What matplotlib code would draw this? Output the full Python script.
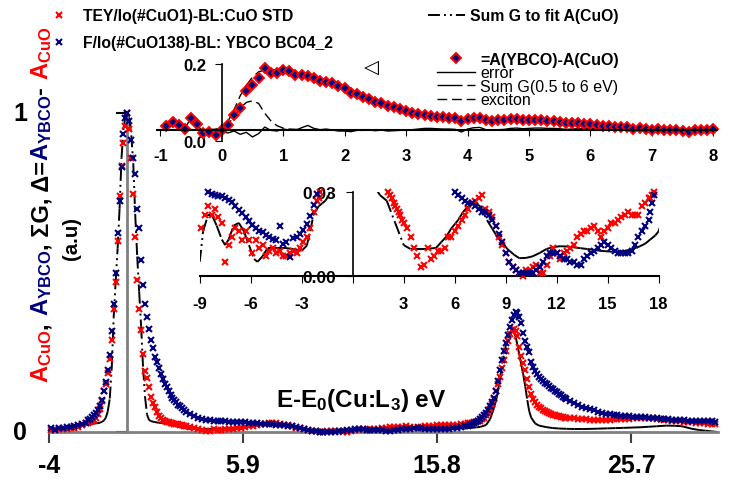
import numpy as np
import matplotlib
matplotlib.use('Agg')
import matplotlib.pyplot as plt
from matplotlib.collections import LineCollection
from matplotlib.lines import Line2D

plt.rcParams['font.family'] = ['Liberation Sans', 'DejaVu Sans']
plt.rcParams['mathtext.fontset'] = 'custom'
plt.rcParams['mathtext.rm'] = 'Liberation Sans:bold'
plt.rcParams['mathtext.bf'] = 'Liberation Sans:bold'
plt.rcParams['mathtext.default'] = 'bf'
plt.rcParams['lines.scale_dashes'] = False

RED = '#ff0000'
NAVY = '#000080'
GREY = '#808080'

# ---- spectra, E-E0(Cu:L3) in eV, sampled in five pieces ----
e_a = np.round(np.arange(-8.9, -2.05, 0.2), 1)
e_b = np.round(np.arange(-2.0, 2.95, 0.1), 1)
e_c = np.round(np.arange(3.0, 17.45, 0.2), 1)
e_d = np.round(np.arange(17.5, 22.45, 0.1), 1)
e_e = np.round(np.arange(22.6, 30.05, 0.2), 1)

# A(CuO), TEY
cuo_a = [0.017, 0.022, 0.025, 0.022, 0.024, 0.021, 0.019, 0.005, 0.011, 0.014,
         0.017, 0.016, 0.013, 0.016, 0.013, 0.008, 0.013, 0.010, 0.011, 0.007,
         0.009, 0.010, 0.008, 0.009, 0.007, 0.007, 0.008, 0.009, 0.008, 0.010,
         0.012, 0.014, 0.017, 0.023, 0.027]
cuo_b = [0.028, 0.030, 0.034, 0.039, 0.045, 0.055, 0.072, 0.098, 0.128, 0.150,
         0.185, 0.228, 0.290, 0.385, 0.470, 0.600, 0.740, 0.835, 0.905, 0.960,
         1.000, 0.950, 0.860, 0.745, 0.610, 0.475, 0.385, 0.320, 0.245, 0.190,
         0.170, 0.140, 0.110, 0.090, 0.078, 0.062, 0.050, 0.044, 0.038, 0.033,
         0.031, 0.030, 0.029, 0.028, 0.026, 0.025, 0.024, 0.023, 0.022, 0.020]
cuo_c = [0.019, 0.017, 0.014, 0.010, 0.007, 0.003, 0.004, 0.010, 0.006, 0.007,
         0.009, 0.009, 0.010, 0.014, 0.014, 0.016, 0.018, 0.020, 0.022, 0.024,
         0.026, 0.027, 0.028, 0.029, 0.024, 0.023, 0.021, 0.018, 0.014, 0.011,
         0.008, 0.005, 0.003, 0.002, 0.001, 0.000, 0.002, 0.002, 0.003, 0.004,
         0.001, 0.001, 0.004, 0.007, 0.010, 0.008, 0.006, 0.008, 0.009, 0.010,
         0.011, 0.014, 0.015, 0.016, 0.016, 0.017, 0.018, 0.016, 0.014, 0.016,
         0.017, 0.019, 0.019, 0.020, 0.021, 0.022, 0.023, 0.022, 0.022, 0.022,
         0.025, 0.026, 0.028]
cuo_d = [0.028, 0.029, 0.030, 0.031, 0.033, 0.036, 0.040, 0.045, 0.052, 0.060,
         0.072, 0.087, 0.105, 0.128, 0.150, 0.172, 0.200, 0.225, 0.255, 0.285,
         0.308, 0.320, 0.323, 0.318, 0.300, 0.268, 0.238, 0.215, 0.193, 0.166,
         0.140, 0.120, 0.105, 0.093, 0.085, 0.079, 0.074, 0.070, 0.066, 0.062,
         0.059, 0.056, 0.054, 0.052, 0.050, 0.049, 0.047, 0.046, 0.045, 0.044]
cuo_e = [0.043, 0.043, 0.042, 0.041, 0.040, 0.039, 0.039, 0.039, 0.039, 0.039,
         0.039, 0.040, 0.040, 0.041, 0.041, 0.042, 0.043, 0.044, 0.045, 0.045,
         0.044, 0.043, 0.042, 0.040, 0.039, 0.037, 0.035, 0.034, 0.033, 0.032,
         0.031, 0.030, 0.029, 0.028, 0.027, 0.026, 0.026, 0.025]

# A(YBCO), fluorescence
ybco_a = [np.nan, np.nan, 0.030, 0.0295, 0.029, 0.0287, 0.0286, 0.028, 0.0273, 0.0265,
          0.0252, 0.0238, 0.0226, 0.021, 0.0196, 0.0184, 0.0171, 0.0162, 0.0157, 0.0147,
          0.0139, 0.0133, 0.0127, 0.018, 0.0114, 0.0122, 0.0066, 0.0135, 0.0141, 0.0150,
          0.0165, 0.0186, 0.0213, 0.0255, 0.0294]
ybco_b = [0.037, 0.041, 0.046, 0.053, 0.061, 0.070, 0.082, 0.100, 0.128, 0.158,
          0.195, 0.240, 0.318, 0.400, 0.500, 0.625, 0.725, 0.830, 0.935, 0.985,
          1.000, 0.975, 0.915, 0.860, 0.810, 0.700, 0.640, 0.540, 0.460, 0.400,
          0.360, 0.322, 0.290, 0.262, 0.236, 0.218, 0.200, 0.182, 0.166, 0.152,
          0.140, 0.127, 0.117, 0.108, 0.100, 0.093, 0.086, 0.080, 0.074, 0.069]
ybco_c = [0.064, 0.056, 0.050, 0.045, 0.041, 0.039, 0.038, 0.036, 0.035, 0.034,
          0.033, 0.032, 0.032, 0.031, 0.031, 0.030, 0.029, 0.028, 0.027, 0.026,
          0.026, 0.025, 0.024, 0.023, 0.023, 0.022, 0.020, 0.018, 0.015, 0.012,
          0.008, 0.005, 0.003, 0.002, 0.001, 0.001, 0.001, 0.001, 0.001, 0.002,
          0.003, 0.005, 0.007, 0.008, 0.008, 0.008, 0.007, 0.006, 0.006, 0.005,
          0.005, 0.004, 0.004, 0.006, 0.007, 0.008, 0.009, 0.010, 0.011, 0.012,
          0.011, 0.010, 0.009, 0.008, 0.008, 0.008, 0.008, 0.009, 0.011, 0.014,
          0.016, 0.018, 0.020]
ybco_d = [0.023, 0.026, 0.029, 0.031, 0.035, 0.041, 0.047, 0.054, 0.060, 0.068,
          0.080, 0.093, 0.108, 0.130, 0.160, 0.195, 0.225, 0.255, 0.280, 0.305,
          0.330, 0.352, 0.368, 0.375, 0.372, 0.360, 0.342, 0.310, 0.284, 0.265,
          0.250, 0.220, 0.203, 0.192, 0.183, 0.174, 0.167, 0.161, 0.155, 0.149,
          0.144, 0.139, 0.134, 0.129, 0.124, 0.120, 0.116, 0.111, 0.107, 0.103]
ybco_e = [0.097, 0.091, 0.085, 0.079, 0.074, 0.071, 0.068, 0.064, 0.061, 0.058,
          0.056, 0.054, 0.052, 0.051, 0.050, 0.049, 0.048, 0.047, 0.046, 0.046,
          0.045, 0.044, 0.043, 0.042, 0.041, 0.040, 0.039, 0.038, 0.038, 0.037,
          0.036, 0.035, 0.035, 0.034, 0.034, 0.033, 0.033, 0.032]

energy = np.concatenate([e_a, e_b, e_c, e_d, e_e])
cuo = np.array(cuo_a + cuo_b + cuo_c + cuo_d + cuo_e)
ybco = np.array(ybco_a + ybco_b + ybco_c + ybco_d + ybco_e)

# Sum G fitted to A(CuO)
sumg_x = np.array([-9.0, -8.8, -8.5, -8.3, -8.0, -7.7, -7.5, -7.3, -7.0, -6.7,
                   -6.4, -6.1, -5.8, -5.6, -5.3, -5.0, -4.6, -4.3, -4.0, -3.5,
                   -3.0, -2.7, -2.5, -2.3, -2.0, -1.8, -1.6, -1.4, -1.3, -1.2,
                   -1.1, -1.0, -0.9, -0.8, -0.7, -0.6, -0.5, -0.4, -0.3, -0.2,
                   -0.1, 0.0, 0.1, 0.2, 0.3, 0.4, 0.5, 0.6, 0.7, 0.8,
                   0.9, 1.0, 1.1, 1.2, 1.4, 1.6, 2.0, 2.5, 3.0, 3.4,
                   3.8, 4.2, 4.6, 4.9, 5.2, 5.5, 5.8, 6.2, 6.5, 6.8,
                   7.2, 7.5, 7.9, 8.2, 8.5, 8.8, 9.1, 9.5, 9.8, 10.2,
                   10.6, 11.0, 11.4, 11.8, 12.2, 12.6, 13.0, 13.4, 13.8, 14.2,
                   14.5, 14.9, 15.3, 15.7, 16.1, 16.5, 16.9, 17.2, 17.5, 17.8,
                   18.0, 18.3, 18.5, 18.7, 18.85, 19.0, 19.2, 19.4, 19.6, 19.7,
                   19.8, 19.9, 20.0, 20.1, 20.2, 20.3, 20.4, 20.5, 20.6, 20.8,
                   21.0, 21.4, 21.7, 22.0, 22.4, 22.8, 23.2, 23.6, 24.0, 24.5,
                   24.9, 25.3, 25.8, 26.2, 26.6, 27.0, 27.5, 27.9, 28.3, 28.8,
                   29.2, 29.5, 29.8, 30.1])
sumg_y = np.array([0.005, 0.016, 0.022, 0.022, 0.018, 0.013, 0.011, 0.013, 0.018, 0.019,
                   0.016, 0.011, 0.006, 0.005, 0.007, 0.010, 0.010, 0.010, 0.010, 0.0096,
                   0.009, 0.0108, 0.016, 0.022, 0.025, 0.026, 0.027, 0.029, 0.032, 0.036,
                   0.045, 0.065, 0.105, 0.200, 0.360, 0.470, 0.575, 0.700, 0.860, 0.950,
                   0.990, 1.000, 0.980, 0.930, 0.840, 0.680, 0.550, 0.440, 0.330, 0.200,
                   0.110, 0.055, 0.038, 0.034, 0.031, 0.029, 0.027, 0.019, 0.011, 0.0096,
                   0.0096, 0.0096, 0.0098, 0.010, 0.012, 0.014, 0.017, 0.020, 0.023, 0.025,
                   0.026, 0.025, 0.020, 0.017, 0.014, 0.012, 0.0096, 0.0075, 0.0063, 0.0064,
                   0.0070, 0.0082, 0.0096, 0.0103, 0.0106, 0.0105, 0.0102, 0.0099, 0.0096, 0.0093,
                   0.009, 0.0088, 0.0086, 0.0087, 0.009, 0.0097, 0.0106, 0.0115, 0.013, 0.0145,
                   0.016, 0.022, 0.040, 0.075, 0.110, 0.165, 0.245, 0.295, 0.318, 0.318,
                   0.300, 0.272, 0.240, 0.210, 0.178, 0.142, 0.100, 0.065, 0.045, 0.027,
                   0.020, 0.015, 0.0125, 0.011, 0.010, 0.0094, 0.0095, 0.0098, 0.0105, 0.0115,
                   0.0122, 0.013, 0.014, 0.015, 0.0165, 0.018, 0.020, 0.0195, 0.018, 0.010,
                   0.006, 0.004, 0.002, 0.0])

# ---- difference spectrum (top inset) ----
d_x = np.round(np.arange(-0.9, 8.05, 0.1), 1)
delta = [0.010, 0.022, 0.015, 0.003, 0.037, 0.017, -0.010, -0.006, -0.017, -0.002,
         0.014, 0.044, 0.066, 0.118, 0.136, 0.157, 0.187, 0.172, 0.172, 0.183,
         0.178, 0.167, 0.167, 0.164, 0.156, 0.147, 0.144, 0.141, 0.132, 0.127,
         0.113, 0.108, 0.100, 0.094, 0.085, 0.080, 0.073, 0.068, 0.063, 0.057,
         0.052, 0.049, 0.046, 0.042, 0.040, 0.038, 0.037, 0.036, 0.026, 0.034,
         0.037, 0.037, 0.030, 0.027, 0.029, 0.029, 0.032, 0.032, 0.030, 0.030,
         0.030, 0.029, 0.027, 0.026, 0.024, 0.020, 0.020, 0.019, 0.018, 0.016,
         0.014, 0.012, 0.011, 0.007, 0.008, 0.007, 0.003, 0.006, 0.003, -0.002,
         0.002, 0.000, -0.002, -0.002, -0.004, -0.007, -0.002, 0.000, 0.000, 0.001]
d_fit = [0, 0, 0, 0, 0, 0, 0, 0, 0.001, 0.005,
         0.025, 0.060, 0.103, 0.135, 0.160, 0.176, 0.182, 0.183, 0.182, 0.180,
         0.177, 0.173, 0.168, 0.163, 0.157, 0.151, 0.145, 0.139, 0.132, 0.125,
         0.118, 0.110, 0.102, 0.094, 0.087, 0.080, 0.073, 0.067, 0.062, 0.057,
         0.053, 0.049, 0.046, 0.043, 0.040, 0.038, 0.036, 0.034, 0.033, 0.032,
         0.031, 0.030, 0.030, 0.029, 0.029, 0.028, 0.028, 0.027, 0.027, 0.026,
         0.025, 0.024, 0.023, 0.022, 0.021, 0.019, 0.018, 0.016, 0.014, 0.012,
         0.010, 0.008, 0.006, 0.005, 0.004, 0.003, 0.002, 0.002, 0.001, 0.001,
         0.001, 0.001, 0.000, 0.000, 0.000, 0.000, 0.000, 0.000, 0.000, 0.000]
d_err = [0.010, 0.022, 0.015, 0.003, 0.037, 0.017, -0.010, -0.006, -0.017, -0.004,
         -0.010, -0.004, -0.014, -0.008, -0.022, -0.012, 0.008, -0.002, -0.004, 0.002,
         -0.001, -0.002, 0.006, 0.013, 0.004, 0.000, 0.002, -0.001, -0.004, -0.004,
         -0.006, -0.002, -0.002, -0.001, -0.003, -0.001, -0.004, -0.003, -0.002, -0.001,
         0.000, 0.002, 0.004, 0.004, 0.003, 0.002, 0.002, 0.001, -0.007, 0.002,
         0.006, 0.007, 0.000, -0.002, 0.000, 0.001, 0.004, 0.005, 0.003, 0.004,
         0.005, 0.005, 0.004, 0.004, 0.003, 0.001, 0.002, 0.003, 0.004, 0.004,
         0.004, 0.004, 0.005, 0.002, 0.004, 0.004, 0.001, 0.004, 0.002, -0.003,
         0.001, -0.001, -0.002, -0.002, -0.004, -0.007, -0.002, 0.000, 0.000, 0.001]
d_exc = [0, 0, 0, 0, 0, 0, 0, 0, 0.001, 0.004,
         0.015, 0.040, 0.066, 0.083, 0.088, 0.080, 0.050, 0.027, 0.012, 0.005,
         0.002, 0.001, 0, 0, 0, 0, 0, 0, 0, 0]

W, H = 735., 485.


def px_box(x0, y0, x1, y1):
    # left, top, right, bottom in pixels (from top-left) -> figure rect
    return [x0 / W, 1 - y1 / H, (x1 - x0) / W, (y1 - y0) / H]


def sumg_segments(x, y):
    # Excel restarts the dash pattern on every segment, so draw them one by one
    pts = np.column_stack([x, y])
    return np.stack([pts[:-1], pts[1:]], axis=1)


fig = plt.figure(figsize=(W / 100, H / 100), dpi=100)

mk = dict(marker='x', ms=4, mew=1.5, ls='none', clip_on=False)
sumg_ls = (0, (8.6, 2.9, 1.4, 2.9, 1.4, 2.9))

# ---------------- main panel ----------------
ax = fig.add_axes(px_box(49, 100, 718, 433))
ax.set_xlim(-4, 30.13)
ax.set_ylim(0, 1.044)
m = energy >= -4.0
g = sumg_x >= -4.0
ax.add_collection(LineCollection(sumg_segments(sumg_x[g], sumg_y[g]), colors='black',
                                 linewidths=1.4, linestyles=[sumg_ls], zorder=2))
h_cuo, = ax.plot(energy[m], cuo[m], color=RED, zorder=3, **mk)
h_ybco, = ax.plot(energy[m], ybco[m], color=NAVY, zorder=4, **mk)
h_sumg = Line2D([], [], color='black', lw=1.4, ls=sumg_ls)

for s in ['top', 'right']:
    ax.spines[s].set_visible(False)
ax.spines['bottom'].set_color(GREY)
ax.spines['bottom'].set_linewidth(2)
ax.spines['left'].set_position(('data', 0))
ax.spines['left'].set_bounds(0, 1)
ax.spines['left'].set_color(GREY)
ax.spines['left'].set_linewidth(2)
ax.set_xticks([-4, 5.9, 15.8, 25.7])
ax.set_xticklabels(['-4', '5.9', '15.8', '25.7'], fontsize=18, fontweight='bold')
ax.tick_params(axis='x', direction='out', length=8, width=1.5, color='#404040', pad=7)
ax.set_yticks([0, 1])
ax.tick_params(axis='y', direction='out', length=8, width=1.5, color='black', labelleft=False)
for v in [0, 1]:
    ax.text(-0.043, v, str(v), transform=ax.get_yaxis_transform(), ha='center', va='center',
            fontsize=18, fontweight='bold')

fig.text(361 / W, 1 - 401 / H, 'E-E$_0$(Cu:L$_3$) eV', ha='center', va='center',
         fontsize=17.5, fontweight='bold')

legkw = dict(loc='upper left', bbox_transform=fig.transFigure, frameon=False,
             prop={'weight': 'bold', 'size': 11.3}, numpoints=1, handlelength=2.36,
             handletextpad=0.32, labelspacing=0.78, borderpad=0, borderaxespad=0)
leg_a = ax.legend(handles=[h_cuo, h_ybco],
                  labels=['TEY/Io(#CuO1)-BL:CuO STD', 'F/Io(#CuO138)-BL: YBCO BC04_2'],
                  bbox_to_anchor=(40.5 / W, 1 - 9 / H), **legkw)
ax.add_artist(leg_a)
ax.legend(handles=[h_sumg], labels=['Sum G to fit A(CuO)'],
          bbox_to_anchor=(428 / W, 1 - 9 / H), **legkw)

# multi-coloured rotated y label
ylabel_parts = [('A$_{CuO}$', RED), (', ', 'black'), ('A$_{YBCO}$', NAVY),
                (', \u03a3G, \u0394=', 'black'), ('A$_{YBCO}$', NAVY), ('- ', 'black'),
                ('A$_{CuO}$', RED)]
renderer = fig.canvas.get_renderer()
yy = 1 - 383 / H
for txt, col in ylabel_parts:
    t = fig.text(48 / W, yy, txt, color=col, rotation=90, rotation_mode='anchor',
                 ha='left', va='baseline', fontsize=17, fontweight='bold')
    yy += t.get_window_extent(renderer).height / H
fig.text(71 / W, 1 - 238 / H, '(a.u)', rotation=90, ha='center', va='center',
         fontsize=14.7, fontweight='bold')

# ---------------- top inset: difference ----------------
ax1 = fig.add_axes(px_box(157.2, 65, 717.0, 142.2))
ax1.set_facecolor('none')
ax1.set_xlim(-1.05, 8.06)
ax1.set_ylim(-0.035, 0.2)
h_exc, = ax1.plot(d_x[:len(d_exc)], d_exc, color='black', lw=1.0, ls=(0, (7, 3.5)))
h_fit, = ax1.plot(d_x, d_fit, color='black', lw=1.0, ls=(0, (18, 3.5)))
h_err, = ax1.plot(d_x, d_err, color='black', lw=1.0)
h_delta, = ax1.plot(d_x, delta, ls='none', marker='D', ms=4.6, mfc=NAVY, mec=RED, mew=1.4,
                    clip_on=False)
for s in ['top', 'right']:
    ax1.spines[s].set_visible(False)
ax1.spines['left'].set_position(('data', 0))
ax1.spines['bottom'].set_position(('data', 0))
ax1.spines['left'].set_linewidth(1.2)
ax1.spines['bottom'].set_linewidth(1.5)
ax1.set_xticks(range(-1, 9))
ax1.set_xticklabels([str(v) for v in range(-1, 9)], fontsize=12, fontweight='bold')
ax1.tick_params(axis='x', direction='out', length=4, pad=9)
ax1.set_yticks([-0.035, 0.2])
ax1.set_yticklabels(['0.0', '0.2'], fontsize=12, fontweight='bold')
ax1.tick_params(axis='y', direction='out', length=5, pad=6)

leg1 = ax1.legend(handles=[h_delta, h_err, h_fit, h_exc],
                  labels=['=A(YBCO)-A(CuO)', 'error', 'Sum G(0.5 to 6 eV)', 'exciton'],
                  loc='upper left', bbox_to_anchor=(437 / W, 1 - 53 / H),
                  bbox_transform=fig.transFigure, frameon=False, fontsize=11.5,
                  numpoints=1, handlelength=2.38, handletextpad=0.31,
                  labelspacing=-0.1, borderpad=0, borderaxespad=0)
leg1.get_texts()[0].set_fontweight('bold')
fig.text(371 / W, 1 - 67 / H, '\u25c1', ha='center', va='center', fontsize=14,
         family='DejaVu Sans', fontweight='bold')

# ---------------- middle inset: low-level detail ----------------
ax2 = fig.add_axes(px_box(199.7, 193.3, 658.7, 276.7))
ax2.set_facecolor('none')
ax2.set_xlim(-9, 18)
ax2.set_ylim(0, 0.03)
sel = energy <= 18.1
cuo_low = np.where((cuo >= -0.001) & (cuo <= 0.0305), cuo, np.nan)
ybco_low = np.where((ybco >= -0.001) & (ybco <= 0.0305), ybco, np.nan)
g2 = sumg_x <= 18.5
ax2.add_collection(LineCollection(sumg_segments(sumg_x[g2], sumg_y[g2]), colors='black',
                                  linewidths=1.4, linestyles=[sumg_ls], zorder=2))
ax2.plot(energy[sel], cuo_low[sel], color=RED, zorder=3, **mk)
ax2.plot(energy[sel], ybco_low[sel], color=NAVY, zorder=4, **mk)
for s in ['top', 'right']:
    ax2.spines[s].set_visible(False)
ax2.spines['left'].set_position(('data', 0))
ax2.spines['left'].set_linewidth(1.2)
ax2.spines['bottom'].set_linewidth(1.5)
ticks2 = [-9, -6, -3, 0, 3, 6, 9, 12, 15, 18]
ax2.set_xticks(ticks2)
ax2.set_xticklabels(['' if v == 0 else str(v) for v in ticks2], fontsize=12, fontweight='bold')
ax2.tick_params(axis='x', direction='out', length=5, pad=9.4)
ax2.set_yticks([0, 0.03])
ax2.set_yticklabels(['0.00', '0.03'], fontsize=12.5, fontweight='bold')
ax2.tick_params(axis='y', direction='out', length=5, pad=7)

fig.savefig('out.png', dpi=100)
